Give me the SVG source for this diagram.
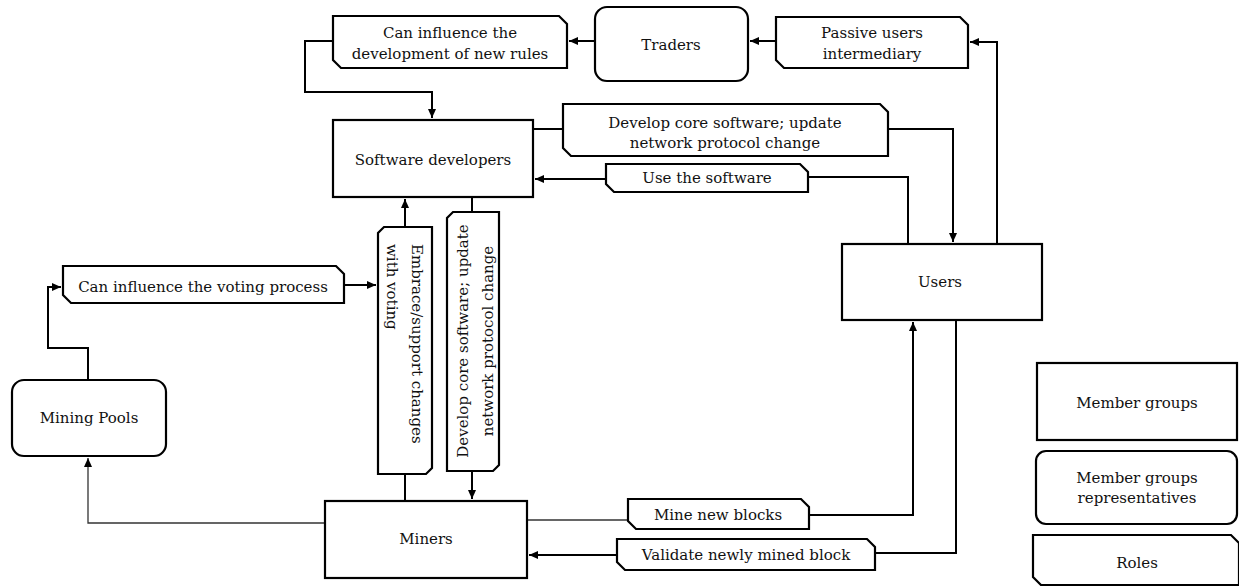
<svg xmlns="http://www.w3.org/2000/svg" width="1239" height="586" viewBox="0 0 1239 586">
<style>
.box{fill:#fff;stroke:#000;stroke-width:2.2}
.t{font-family:"DejaVu Serif","Liberation Serif",serif;font-size:15px;fill:#111;text-anchor:middle}
.c{fill:none;stroke:#000;stroke-width:2}
.thin{fill:none;stroke:#333;stroke-width:1.3}
</style>
<defs>
<marker id="ah" markerUnits="userSpaceOnUse" markerWidth="10" markerHeight="10" refX="9" refY="4" orient="auto">
<path d="M0,0 L9,4 L0,8 Z" fill="#000"/>
</marker>
</defs>
<rect width="1239" height="586" fill="#fff"/>
<g id="connectors">
<path class="c" d="M776,41 H750" marker-end="url(#ah)"/>
<path class="c" d="M595,41 H569" marker-end="url(#ah)"/>
<path class="c" d="M333,41 H305 V92 H432 V118" marker-end="url(#ah)"/>
<path class="c" d="M997,244 V42 H970" marker-end="url(#ah)"/>
<path class="c" d="M533,129 H563"/>
<path class="c" d="M888,129 H953 V242" marker-end="url(#ah)"/>
<path class="c" d="M908,244 V177 H808"/>
<path class="c" d="M606,179 H535" marker-end="url(#ah)"/>
<path class="c" d="M88,380 V348 H48 V287 H61" marker-end="url(#ah)"/>
<path class="c" d="M344,285 H376" marker-end="url(#ah)"/>
<path class="c" d="M405,227 V199" marker-end="url(#ah)"/>
<path class="c" d="M405,474 V501"/>
<path class="c" d="M472,197 V212"/>
<path class="c" d="M472,471 V499" marker-end="url(#ah)"/>
<path class="thin" d="M325,523 H88 V458" marker-end="url(#ah)"/>
<path class="thin" d="M527,520 H628"/>
<path class="c" d="M809,515 H913 V322" marker-end="url(#ah)"/>
<path class="c" d="M956,320 V553 H875"/>
<path class="c" d="M617,555 H529" marker-end="url(#ah)"/>
</g>
<g id="role-dev-rules">
<path class="box" d="M333,16 H559 L567,24 V68 H341 L333,60 Z"/>
<text class="t" x="450" y="38">Can influence the</text>
<text class="t" x="450" y="59">development of new rules</text>
</g>
<g id="traders">
<rect class="box" x="595" y="7" width="153" height="74" rx="12"/>
<text class="t" x="671" y="50">Traders</text>
</g>
<g id="role-passive">
<path class="box" d="M776,17 H960 L968,25 V68 H784 L776,60 Z"/>
<text class="t" x="872" y="38">Passive users</text>
<text class="t" x="872" y="59">intermediary</text>
</g>
<g id="software-developers">
<rect class="box" x="333" y="120" width="200" height="77"/>
<text class="t" x="433" y="165">Software developers</text>
</g>
<g id="role-develop-core">
<path class="box" d="M563,104 H880 L888,112 V156 H571 L563,148 Z"/>
<text class="t" x="725" y="128">Develop core software; update</text>
<text class="t" x="725" y="148">network protocol change</text>
</g>
<g id="role-use-software">
<path class="box" d="M606,164 H800 L808,172 V192 H614 L606,184 Z"/>
<text class="t" x="707" y="183">Use the software</text>
</g>
<g id="users">
<rect class="box" x="842" y="244" width="200" height="76"/>
<text class="t" x="940" y="287">Users</text>
</g>
<g id="role-voting">
<path class="box" d="M63,266 H336 L344,274 V303 H71 L63,295 Z"/>
<text class="t" x="203" y="292">Can influence the voting process</text>
</g>
<g id="mining-pools">
<rect class="box" x="12" y="380" width="154" height="76" rx="12"/>
<text class="t" x="89" y="423">Mining Pools</text>
</g>
<g id="role-embrace">
<path class="box" d="M384,227 H432 V468 L426,474 H378 V233 Z"/>
<text class="t" style="text-anchor:start" transform="translate(405,244) rotate(90)" x="0" y="-7">Embrace/support changes</text>
<text class="t" style="text-anchor:start" transform="translate(405,244) rotate(90)" x="0" y="18">with voting</text>
</g>
<g id="role-develop-vertical">
<path class="box" d="M453,212 H499 V465 L493,471 H447 V218 Z"/>
<text class="t" transform="translate(472,341) rotate(-90)" x="0" y="-4">Develop core software; update</text>
<text class="t" transform="translate(472,341) rotate(-90)" x="0" y="21">network protocol change</text>
</g>
<g id="miners">
<rect class="box" x="325" y="501" width="202" height="77"/>
<text class="t" x="426" y="544">Miners</text>
</g>
<g id="role-mine">
<path class="box" d="M628,499 H801 L809,507 V529 H636 L628,521 Z"/>
<text class="t" x="718" y="520">Mine new blocks</text>
</g>
<g id="role-validate">
<path class="box" d="M617,539 H867 L875,547 V570 H625 L617,562 Z"/>
<text class="t" x="746" y="560">Validate newly mined block</text>
</g>
<g id="legend-member-groups">
<rect class="box" x="1037" y="363" width="200" height="77"/>
<text class="t" x="1137" y="408">Member groups</text>
</g>
<g id="legend-representatives">
<rect class="box" x="1036" y="451" width="201" height="73" rx="10"/>
<text class="t" x="1137" y="483">Member groups</text>
<text class="t" x="1137" y="503">representatives</text>
</g>
<g id="legend-roles">
<path class="box" d="M1033,535 H1231 L1239,543 V585 H1041 L1033,577 Z"/>
<text class="t" x="1137" y="568">Roles</text>
</g>
</svg>
